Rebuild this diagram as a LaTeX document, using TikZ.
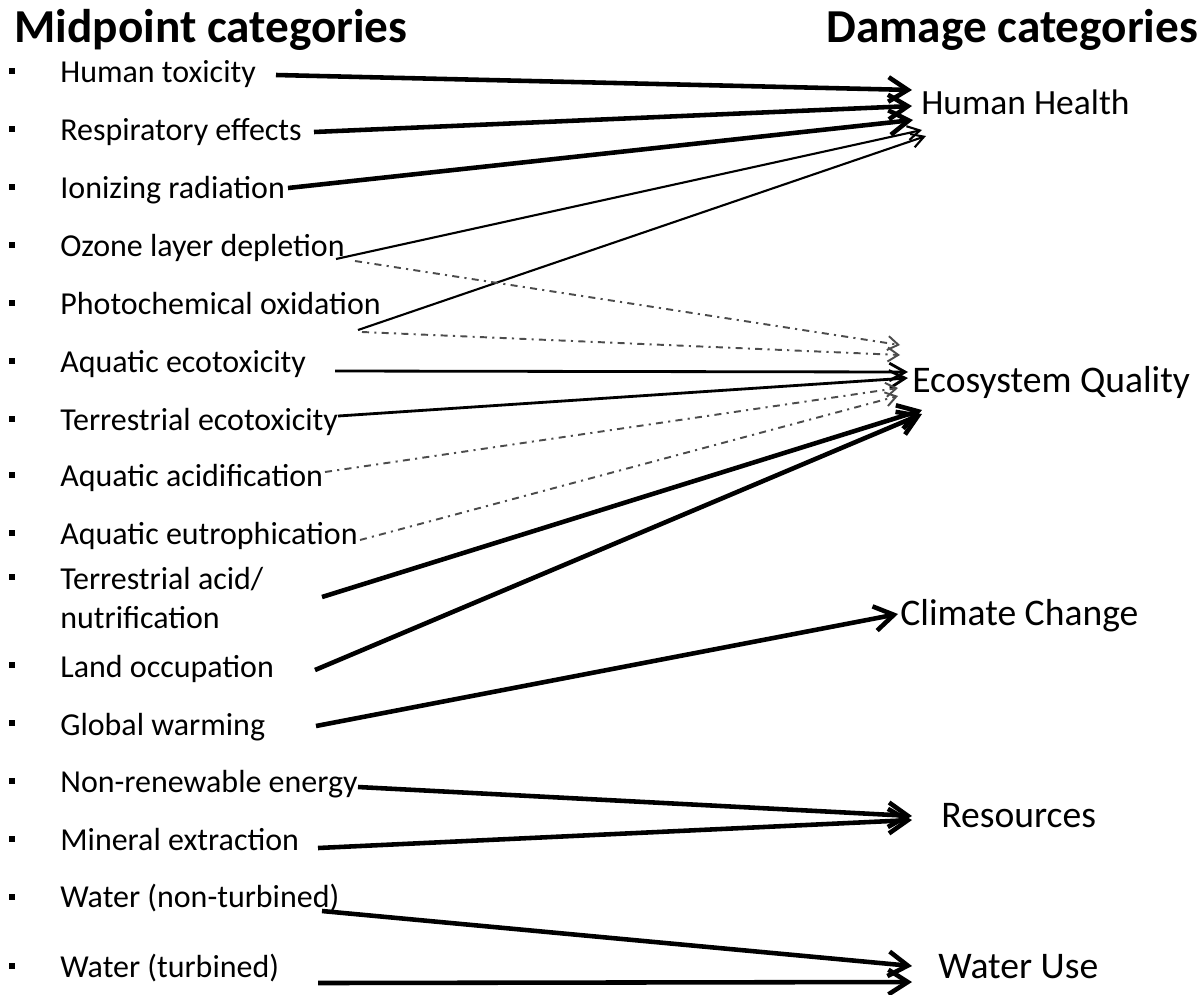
\documentclass[tikz,border=0pt]{standalone}
\usepackage{fontspec}
\setmainfont{Carlito}
\usetikzlibrary{arrows.meta,calc}
\begin{document}
\begin{tikzpicture}[x=0.02cm,y=-0.02cm,
  item/.style={anchor=base west, inner sep=0pt, font=\fontsize{18.2}{22}\selectfont},
  dmg/.style={anchor=base west, inner sep=0pt, font=\fontsize{21.4}{26}\selectfont},
  ttl/.style={anchor=base west, inner sep=0pt, font=\bfseries\fontsize{26.9}{30}\selectfont},
  bul/.style={rectangle, fill=black, inner sep=0pt, minimum size=3.4pt},
  thickarr/.style={line width=2.6pt, -{Straight Barb[length=11pt,width=14pt]}},
  thinarr/.style={line width=1.2pt, -{Straight Barb[length=7pt,width=8pt]}},
  midarr/.style={line width=1.6pt, -{Straight Barb[length=9pt,width=10pt]}},
  ddarr/.style={line width=1.1pt, black!70, dash pattern=on 4pt off 3pt on 1.2pt off 3pt, -{Straight Barb[length=6pt,width=8pt]}}
]
\useasboundingbox (0,0) rectangle (1199,994);

% titles
\node[ttl] (tmid) at (14,42) {Midpoint categories};
\node[ttl] (tdam) at (826,42) {Damage categories};

% midpoint items
\node[item] (ht)   at (60,82)  {Human toxicity};
\node[item] (re)   at (60,140) {Respiratory effects};
\node[item] (ir)   at (60,198) {Ionizing radiation};
\node[item] (oz)   at (60,256) {Ozone layer depletion};
\node[item] (pco)  at (60,314) {Photochemical oxidation};
\node[item] (aeco) at (60,372) {Aquatic ecotoxicity};
\node[item] (teco) at (60,430) {Terrestrial ecotoxicity};
\node[item] (aac)  at (60,486) {Aquatic acidification};
\node[item] (aeu)  at (60,544) {Aquatic eutrophication};
\node[item] (tac)  at (60,589) {Terrestrial acid/};
\node[item] (tac2) at (60,628) {nutrification};
\node[item] (lo)   at (60,677) {Land occupation};
\node[item] (gw)   at (60,735) {Global warming};
\node[item] (nre)  at (60,792) {Non-renewable energy};
\node[item] (me)   at (60,850) {Mineral extraction};
\node[item] (wnt)  at (60,907) {Water (non-turbined)};
\node[item] (wt)   at (60,977) {Water (turbined)};

% bullets
\foreach \n/\y in {b1/71,b2/129,b3/187,b4/245,b5/303,b6/361,b7/419,b8/475,b9/533,b10/577,b11/665,b12/723,b13/781,b14/839,b15/897,b16/966}
  \node[bul] (\n) at (12,\y) {};

% damage categories
\node[dmg, font=\fontsize{20.2}{24}\selectfont] (hh) at (921,114) {Human Health};
\node[dmg] (eq) at (912,392) {Ecosystem Quality};
\node[dmg] (cc) at (900,625) {Climate Change};
\node[dmg] (rs) at (941,827) {Resources};
\node[dmg] (wu) at (938,978) {Water Use};

% connectors to Human Health
\draw[thickarr] ($(ht.base west)+(216,-7)$) -- ($(hh.base west)+(-9,-24)$);
\draw[thickarr] ($(re.base west)+(254,-8)$) -- ($(hh.base west)+(-9,-8)$);
\draw[thickarr] ($(ir.base west)+(228,-10)$) -- ($(hh.base west)+(-8,6)$);
\draw[thinarr] ($(oz.base west)+(276,3)$) -- ($(hh.base west)+(1,16)$);
\draw[thinarr] ($(pco.base west)+(298,16)$) -- ($(hh.base west)+(5,22)$);

% connectors to Ecosystem Quality
\draw[ddarr] ($(oz.base west)+(295,5)$) -- ($(eq.base west)+(-12,-47)$);
\draw[ddarr] ($(pco.base west)+(302,18)$) -- ($(eq.base west)+(-12,-37)$);
\draw[midarr] ($(aeco.base west)+(275,-1)$) -- ($(eq.base west)+(-4,-20)$);
\draw[midarr] ($(teco.base west)+(278,-14)$) -- ($(eq.base west)+(-4,-14)$);
\draw[ddarr] ($(aac.base west)+(265,-14)$) -- ($(eq.base west)+(-14,-4)$);
\draw[ddarr] ($(aeu.base west)+(300,-4)$) -- ($(eq.base west)+(-14,4)$);
\draw[thickarr] ($(tac.base west)+(262,8)$) -- ($(eq.base west)+(10,18)$);
\draw[thickarr] ($(lo.base west)+(255,-7)$) -- ($(eq.base west)+(10,22)$);

% Climate Change
\draw[thickarr] ($(gw.base west)+(256,-9)$) -- ($(cc.base west)+(-2,-11)$);

% Resources
\draw[thickarr] ($(nre.base west)+(298,-5)$) -- ($(rs.base west)+(-29,-11)$);
\draw[thickarr] ($(me.base west)+(258,-2)$) -- ($(rs.base west)+(-29,-7)$);

% Water Use
\draw[thickarr] ($(wnt.base west)+(262,4)$) -- ($(wu.base west)+(-26,-12)$);
\draw[thickarr] ($(wt.base west)+(258,6)$) -- ($(wu.base west)+(-26,4)$);
\end{tikzpicture}
\end{document}
